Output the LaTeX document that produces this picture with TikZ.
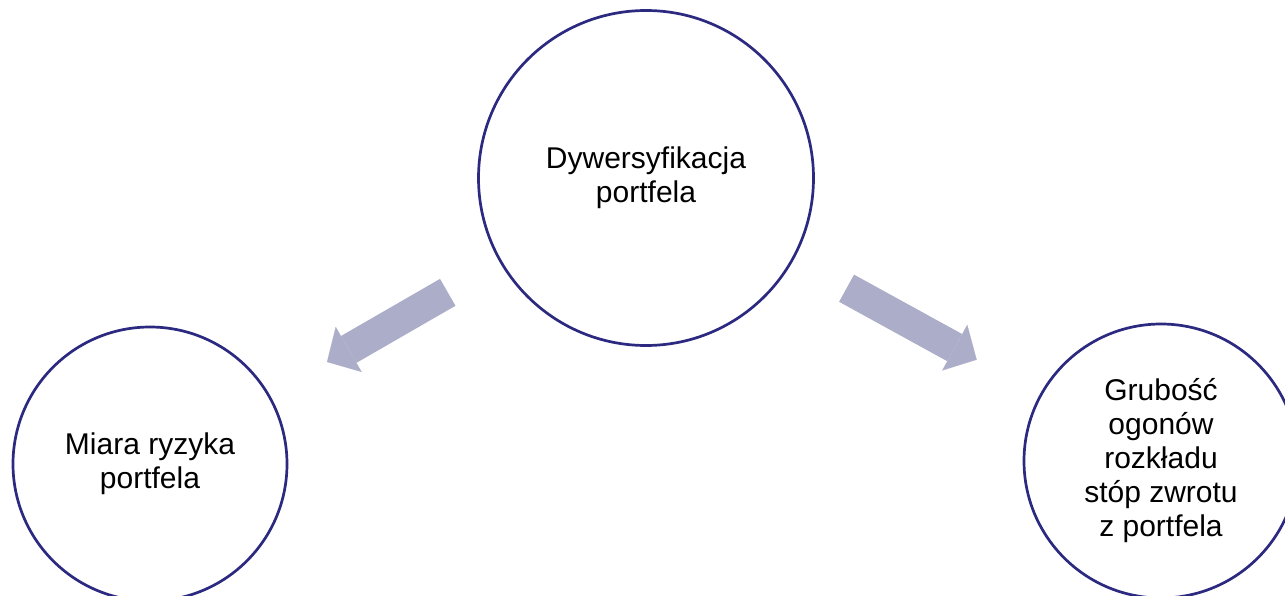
\documentclass[tikz,border=0pt]{standalone}
\usepackage{fontspec}
\setmainfont{Liberation Sans}
\usetikzlibrary{arrows.meta}
\definecolor{ringblue}{RGB}{43,41,128}
\definecolor{arrowgray}{RGB}{172,173,200}
\begin{document}
\begin{tikzpicture}[x=1pt, y=-1pt,
  ring/.style={circle, draw=ringblue, line width=2.7pt, fill=white, align=center, inner sep=0pt, font=\fontsize{30}{34}\selectfont},
  fatarrow/.style={draw=arrowgray, line width=31pt, -{Triangle[width=52pt, length=25pt, line width=0.01pt]}}]
\useasboundingbox (0,0) rectangle (1285,596);
\clip (0,0) rectangle (1285,596);

\node[ring, minimum size=335pt] (divers) at (646,178) {Dywersyfikacja\\portfela};
\node[ring, minimum size=274pt] (risk) at (150,464) {Miara ryzyka\\portfela};
\node[ring, minimum size=274pt] (tails) at (1161,461) {Grubość\\ogonów\\rozkładu\\stóp zwrotu\\z portfela};

\draw[fatarrow, shorten <=60pt, shorten >=66pt] (divers) -- (risk);
\draw[fatarrow, shorten <=60pt, shorten >=72pt] (divers) -- (tails);
\end{tikzpicture}
\end{document}
